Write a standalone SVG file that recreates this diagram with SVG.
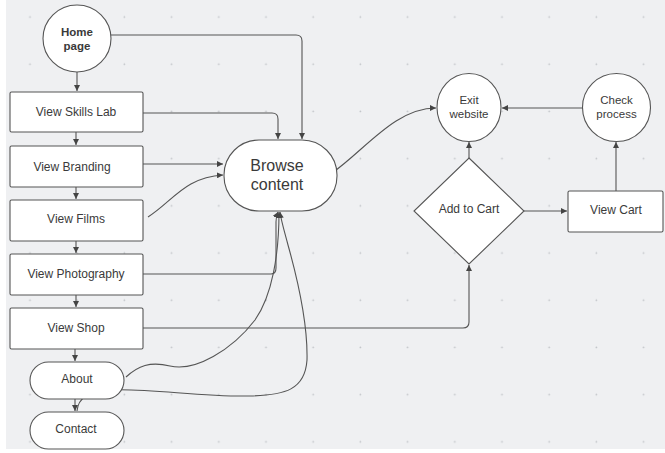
<svg xmlns="http://www.w3.org/2000/svg" width="665" height="453" viewBox="0 0 665 453">
  <defs>
    <pattern id="dots" x="6" y="-6" width="47.2" height="47.2" patternUnits="userSpaceOnUse">
      <circle cx="24" cy="23" r="0.9" fill="#c4c6ca"/>
    </pattern>
    <marker id="arrow" viewBox="0 0 6 6" refX="6" refY="3" markerWidth="6" markerHeight="6" markerUnits="userSpaceOnUse" orient="auto">
      <path d="M0,0 L6,3 L0,6 z" fill="#444"/>
    </marker>
  </defs>
  <style>
    .node { fill: #ffffff; stroke: #555; stroke-width: 1.1; }
    .label { font-family: "Liberation Sans", Arial, sans-serif; font-size: 12px; fill: #3a3a3a; text-anchor: middle; dominant-baseline: central; }
    .small { font-size: 11.5px; }
    .bold { font-weight: bold; }
    .big { font-size: 16px; }
    .edge { fill: none; stroke: #555; stroke-width: 1.1; marker-end: url(#arrow); }
    .plain { fill: none; stroke: #555; stroke-width: 1.1; }
  </style>

  <!-- canvas -->
  <rect width="665" height="453" fill="#ffffff"/>
  <rect x="6" y="0" width="659" height="449" fill="#eff0f2"/>
  <rect x="6" y="0" width="659" height="449" fill="url(#dots)"/>

  <!-- connectors -->
  <g id="connectors">
    <path class="edge" d="M77 72 V91"/>
    <path class="edge" d="M76 132 V145"/>
    <path class="edge" d="M76 187 V199"/>
    <path class="edge" d="M76 241 V253"/>
    <path class="edge" d="M76 295 V307"/>
    <path class="edge" d="M75 349 V361"/>
    <path class="edge" d="M75 399 V411"/>
    <path class="edge" d="M111 35 H296 Q302 35 302 41 V139"/>
    <path class="edge" d="M143 113 H272 Q278 113 278 119 V139"/>
    <path class="edge" d="M143 164 H223"/>
    <path class="edge" d="M148 217 C172 202, 185 177, 223 175"/>
    <path class="edge" d="M143 274 H271 Q276 274 276 268 V222 Q276 216 278 212"/>
    <path class="edge" d="M126 377 C138 366, 150 361, 170 366 C195 372, 232 350, 255 320 C272 296, 279 255, 279 212"/>
    <path class="edge" d="M77 411 C78 398, 88 391, 110 390 C150 388, 200 397, 250 396 C285 395, 305 390, 307 360 C308 320, 295 270, 288 245 C284 230, 281 220, 280 212"/>
    <path class="edge" d="M332 173 C365 150, 395 108, 436 108"/>
    <path class="edge" d="M582 108 H502"/>
    <path class="edge" d="M469 158 V142"/>
    <path class="edge" d="M524 211 H567"/>
    <path class="edge" d="M616 191 V142"/>
    <path class="edge" d="M143 328 H463 Q469 328 469 322 V265"/>
  </g>

  <!-- nodes -->
  <g id="home-page">
    <ellipse class="node" cx="77" cy="38.5" rx="34" ry="33.5"/>
    <text class="label small bold" x="77" y="32">Home</text>
    <text class="label small bold" x="77" y="46">page</text>
  </g>
  <g id="view-skills-lab">
    <rect class="node" x="10" y="92" width="133" height="40" rx="1.5"/>
    <text class="label" x="76" y="112">View Skills Lab</text>
  </g>
  <g id="view-branding">
    <rect class="node" x="10" y="146" width="133" height="41" rx="1.5"/>
    <text class="label" x="72" y="167">View Branding</text>
  </g>
  <g id="view-films">
    <rect class="node" x="10" y="200" width="133" height="41" rx="1.5"/>
    <text class="label" x="76" y="219">View Films</text>
  </g>
  <g id="view-photography">
    <rect class="node" x="10" y="254" width="133" height="41" rx="1.5"/>
    <text class="label" x="76" y="274">View Photography</text>
  </g>
  <g id="view-shop">
    <rect class="node" x="10" y="308" width="133" height="41" rx="1.5"/>
    <text class="label" x="76" y="328">View Shop</text>
  </g>
  <g id="about">
    <rect class="node" x="30" y="362" width="94" height="37" rx="18.5"/>
    <text class="label" x="77" y="379">About</text>
  </g>
  <g id="contact">
    <rect class="node" x="30" y="412" width="94" height="37" rx="18.5"/>
    <text class="label" x="76" y="429">Contact</text>
  </g>
  <g id="browse-content">
    <rect class="node" x="224" y="140" width="113" height="71" rx="35"/>
    <text class="label big" x="277" y="165">Browse</text>
    <text class="label big" x="277" y="184">content</text>
  </g>
  <g id="exit-website">
    <ellipse class="node" cx="469" cy="107.5" rx="32" ry="34"/>
    <text class="label small" x="469" y="100">Exit</text>
    <text class="label small" x="469" y="114">website</text>
  </g>
  <g id="check-process">
    <ellipse class="node" cx="616.5" cy="107.5" rx="34" ry="34"/>
    <text class="label small" x="616.5" y="100">Check</text>
    <text class="label small" x="616.5" y="114">process</text>
  </g>
  <g id="add-to-cart">
    <polygon class="node" points="469,158 524,211 469,264 414,211"/>
    <text class="label" x="469" y="209">Add to Cart</text>
  </g>
  <g id="view-cart">
    <rect class="node" x="568" y="191" width="95" height="41" rx="1.5"/>
    <text class="label" x="616" y="210">View Cart</text>
  </g>
</svg>
